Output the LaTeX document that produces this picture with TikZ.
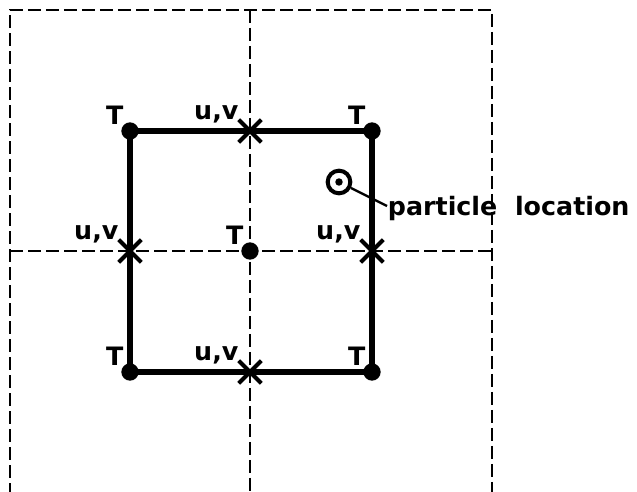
\documentclass[tikz,border=0pt]{standalone}
\usepackage{fontspec}
\setsansfont{DejaVu Sans}
\usetikzlibrary{shapes.misc}

\begin{document}
\begin{tikzpicture}[x=0.75pt,y=-0.75pt,
  grid/.style={dash pattern=on 9.5pt off 4pt,line width=2pt},
  cell/.style={line width=4pt},
  lab/.style={font=\fontsize{19}{23}\selectfont\sffamily\bfseries,inner sep=0pt,text depth=0pt},
  tpt/.style={circle,fill=black,inner sep=0pt,minimum size=13pt,label={[lab]above left:T}},
  uvpt/.style={cross out,draw=black,line width=3pt,inner sep=0pt,minimum size=14pt,label={[lab]above left:u,v}}
]
\fill[white] (0,0) rectangle (637,492);
\useasboundingbox (0,0) rectangle (637,492);
% dashed grid cells
\draw[grid] (10,496) -- (10,10) -- (492,10) -- (492,496);
\draw[grid] (250,10) -- (250,496);
\draw[grid] (10,251) -- (492,251);
% grid points
\node[tpt] (tl) at (130,131) {};
\node[tpt] (tr) at (372,131) {};
\node[tpt] (bl) at (130,372) {};
\node[tpt] (br) at (372,372) {};
\node[tpt] (mid) at (250,251) {};
\coordinate (tm) at (250,131);
\coordinate (bm) at (250,372);
\coordinate (lm) at (130,251);
\coordinate (rm) at (372,251);
\draw[cell] (tl.center) -- (tr.center) -- (br.center) -- (bl.center) -- cycle;
\node[uvpt] (uvt) at (tm) {};
\node[uvpt] (uvb) at (bm) {};
\node[uvpt] (uvl) at (lm) {};
\node[uvpt] (uvr) at (rm) {};
% particle
\node[circle,draw=black,line width=3pt,inner sep=0pt,minimum size=17pt] (part) at (339,182) {};
\fill (part.center) circle (2.8pt);
\node[lab,anchor=west,inner sep=0.5pt] (plab) at (387,206) {particle\hspace{0.7em}location};
\draw[line width=1.8pt] (part) -- (plab.west);
\end{tikzpicture}
\end{document}
